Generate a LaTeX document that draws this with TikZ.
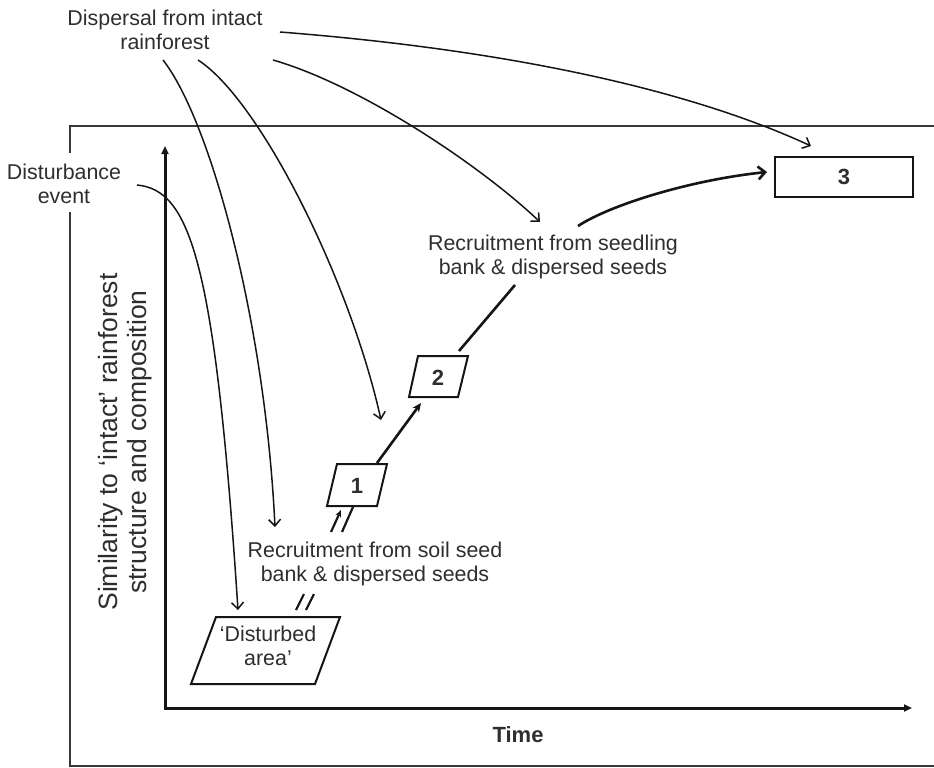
\documentclass[tikz,border=0pt]{standalone}
\usepackage{fontspec}
\setmainfont{Liberation Sans}
\usetikzlibrary{arrows.meta}
\definecolor{txt}{HTML}{2E2E2E}
\definecolor{ln}{HTML}{151515}
\begin{document}
\begin{tikzpicture}[x=1pt,y=-1pt,
  lbl/.style={text=txt, font=\fontsize{21.4}{24}\selectfont, align=center, inner sep=0pt},
  num/.style={text=txt, font=\fontsize{22}{24}\selectfont\bfseries, inner sep=0pt},
  framel/.style={draw=ln!85, line width=1.5pt},
  axisl/.style={draw=ln, line width=3pt, line join=miter},
  thinarr/.style={draw=ln, line width=1.5pt, -{Straight Barb[length=6.5pt,width=12pt]}},
  fatline/.style={draw=ln, line width=2.6pt},
  boxline/.style={draw=ln, line width=2pt, line join=miter},
]
\useasboundingbox (0,0) rectangle (934,768);

% outer frame
\coordinate (fa) at (70,153);
\coordinate (fb) at (70,126);
\coordinate (fc) at (934,126);
\coordinate (fd) at (70,212);
\coordinate (fe) at (70,766);
\coordinate (ff) at (934,766);
\draw[framel] (fa) -- (fb) -- (fc);
\draw[framel] (fd) -- (fe) -- (ff);

% axes
\coordinate (ytop) at (165,146);
\coordinate (orig) at (165,708);
\coordinate (xend) at (912,708);
\draw[axisl, {Triangle[length=8pt,width=7pt]}-{Triangle[length=8pt,width=7pt]}] (ytop) -- (orig) -- (xend);

% texts
\node[lbl] (disp) at (165,30) {Dispersal from intact\\rainforest};
\node[lbl] (dist) at (64,184) {Disturbance\\event};
\node[lbl, font=\fontsize{26.5}{29}\selectfont, rotate=90] (ylab) at (125,442) {Similarity to ‘intact’ rainforest\\structure and composition};
\node[text=txt, font=\fontsize{22}{24}\selectfont\bfseries, inner sep=0pt] (time) at (518,735) {Time};
\node[lbl] (soil) at (375,564) {Recruitment from soil seed\\bank \& dispersed seeds};
\node[lbl] (seed) at (553,257) {Recruitment from seedling\\bank \& dispersed seeds};

% boxes
\draw[boxline] (216,617) -- (340,617) -- (315,684) -- (191,684) -- cycle;
\node[lbl] (da) at (268,646) {‘Disturbed\\area’};
\draw[boxline] (337,464) -- (387,464) -- (377,506) -- (327,506) -- cycle;
\node[num] (n1) at (357,486) {1};
\draw[boxline] (418,356) -- (468,356) -- (458,397) -- (409,397) -- cycle;
\node[num] (n2) at (438,378) {2};
\node[draw=ln, line width=2pt, minimum width=138pt, minimum height=40pt, num] (b3) at (844,177) {3};

% dispersal curves
\coordinate (s1) at (280,32);   \coordinate (e1) at (811,146);
\coordinate (s2) at (273,60);   \coordinate (e2) at (540,222);
\coordinate (s3) at (198,60);   \coordinate (e3) at (381,420);
\coordinate (s4) at (163,60);   \coordinate (e4) at (275,527);
\coordinate (s5) at (137,185);  \coordinate (e5) at (238,610);
\draw[thinarr] (s1) .. controls (510,50) and (690,90) .. (e1);
\draw[thinarr] (s2) .. controls (360,85) and (480,165) .. (e2);
\draw[thinarr] (s3) .. controls (260,100) and (350,280) .. (e3);
\draw[thinarr] (s4) .. controls (210,120) and (265,320) .. (e4);
\draw[thinarr] (s5) .. controls (190,190) and (215,260) .. (e5);

% succession path
\coordinate (p1) at (377,463);  \coordinate (p2) at (421,403);
\draw[fatline, -{Stealth[length=9pt,width=8pt]}] (p1) -- (p2);
\coordinate (q1) at (459,351);  \coordinate (q2) at (515,285);
\draw[fatline] (q1) -- (q2);
\coordinate (r1) at (578,226);  \coordinate (r2) at (767,172);
\draw[fatline, -{Straight Barb[length=7pt,width=13pt]}] (r1) .. controls (610,205) and (690,180) .. (r2);

% break marks
\coordinate (m1a) at (296,610); \coordinate (m1b) at (304,594);
\coordinate (m2a) at (306,610); \coordinate (m2b) at (314,594);
\draw[fatline, line width=2.2pt] (m1a) -- (m1b);
\draw[fatline, line width=2.2pt] (m2a) -- (m2b);
\coordinate (m3a) at (331,532); \coordinate (m3b) at (341,510);
\coordinate (m4a) at (342,532); \coordinate (m4b) at (353,507);
\draw[fatline, line width=2.2pt, -{Stealth[length=7pt,width=6pt]}] (m3a) -- (m3b);
\draw[fatline, line width=2.2pt] (m4a) -- (m4b);
\end{tikzpicture}
\end{document}
